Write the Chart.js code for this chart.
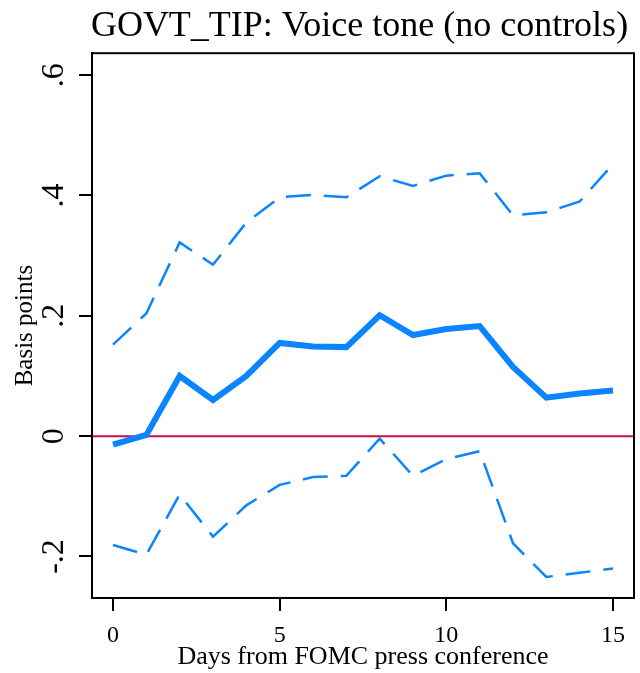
<!DOCTYPE html>
<html>
<head>
<meta charset="utf-8">
<script src="https://cdn.jsdelivr.net/npm/chart.js@4/dist/chart.umd.min.js"></script>
<style>
  html, body { margin: 0; padding: 0; background: #ffffff; }
  #wrap { width: 640px; height: 673px; position: relative; }
</style>
</head>
<body>
<div id="wrap"><canvas id="c"></canvas></div>
<script>
// ---- data ----
const days = [0, 1, 2, 3, 4, 5, 6, 7, 8, 9, 10, 11, 12, 13, 14, 15];
const estimate = [-0.014, 0.002, 0.100, 0.060, 0.100, 0.155, 0.149, 0.148, 0.201, 0.168, 0.178, 0.183, 0.115, 0.064, 0.071, 0.076];
const upperCI = [0.152, 0.204, 0.322, 0.285, 0.355, 0.397, 0.401, 0.397, 0.432, 0.416, 0.433, 0.437, 0.367, 0.372, 0.390, 0.452];
const lowerCI = [-0.181, -0.197, -0.097, -0.167, -0.115, -0.081, -0.068, -0.066, -0.004, -0.066, -0.038, -0.025, -0.178, -0.234, -0.227, -0.220];
const xTickValues = [0, 5, 10, 15];
const yTickValues = [-0.2, 0, 0.2, 0.4, 0.6];
const yTickLabels = ['-.2', '0', '.2', '.4', '.6'];
const refLineY = 0;
const titleText = 'GOVT_TIP: Voice tone (no controls)';
const xTitle = 'Days from FOMC press conference';
const yTitle = 'Basis points';

const SERIF = "'Liberation Serif', 'Times New Roman', serif";
const BLUE = '#0a84ff';
const RED = '#c8103e';

Chart.defaults.font.family = SERIF;
Chart.defaults.color = '#000';

const pts = arr => days.map((d, i) => ({ x: d, y: arr[i] }));

const framePlugin = {
  id: 'frame',
  afterLayout(chart) {
    // centre the title over the plot region (slightly left, as in the reference)
    if (chart.titleBlock) {
      chart.titleBlock.left = chart.chartArea.left - 7;
      chart.titleBlock.right = chart.chartArea.right;
    }
  },
  beforeDatasetsDraw(chart) {
    const { ctx, chartArea: a, scales: { y } } = chart;
    const py = y.getPixelForValue(refLineY);
    ctx.save();
    ctx.strokeStyle = RED;
    ctx.lineWidth = 2;
    ctx.beginPath();
    ctx.moveTo(a.left, py);
    ctx.lineTo(a.right, py);
    ctx.stroke();
    ctx.restore();
  },
  afterDraw(chart) {
    const { ctx, chartArea: a } = chart;
    ctx.save();
    ctx.strokeStyle = '#000';
    ctx.lineWidth = 2;
    ctx.strokeRect(a.left, a.top, a.right - a.left, a.bottom - a.top);
    ctx.restore();
  }
};

new Chart(document.getElementById('c'), {
  type: 'line',
  data: {
    datasets: [
      { label: 'upper', data: pts(upperCI), borderColor: BLUE, borderWidth: 2.5, borderDash: [25, 13], pointRadius: 0, fill: false, tension: 0 },
      { label: 'lower', data: pts(lowerCI), borderColor: BLUE, borderWidth: 2.5, borderDash: [25, 13], pointRadius: 0, fill: false, tension: 0 },
      { label: 'estimate', data: pts(estimate), borderColor: BLUE, borderWidth: 6, pointRadius: 0, fill: false, tension: 0 }
    ]
  },
  options: {
    responsive: true,
    maintainAspectRatio: false,
    devicePixelRatio: 1,
    animation: false,
    layout: { padding: { left: 0, right: 6, top: 0, bottom: 0 } },
    plugins: {
      legend: { display: false },
      tooltip: { enabled: false },
      title: {
        display: true,
        text: titleText,
        color: '#000',
        font: { family: SERIF, size: 36, weight: 'normal' },
        padding: { top: 5, bottom: 5 }
      }
    },
    scales: {
      x: {
        type: 'linear',
        min: -0.63,
        max: 15.63,
        afterBuildTicks: s => { s.ticks = xTickValues.map(v => ({ value: v })); },
        afterFit: s => { s.height = 75; },
        ticks: { color: '#000', font: { family: SERIF, size: 24 }, padding: 10, maxRotation: 0, includeBounds: false },
        grid: { drawOnChartArea: false, drawTicks: true, tickLength: 13, color: '#000', lineWidth: 2 },
        border: { display: true, color: '#000', width: 2 },
        title: { display: true, text: xTitle, color: '#000', font: { family: SERIF, size: 26 }, padding: { top: 0, bottom: 0 } }
      },
      y: {
        type: 'linear',
        min: -0.269,
        max: 0.6365,
        afterBuildTicks: s => { s.ticks = yTickValues.map(v => ({ value: v })); },
        afterFit: s => { s.width = 92; },
        ticks: {
          color: '#000',
          font: { family: SERIF, size: 32 },
          padding: 7,
          minRotation: 90,
          maxRotation: 90,
          crossAlign: 'center',
          includeBounds: false,
          callback: (v) => { const i = yTickValues.findIndex(t => Math.abs(t - v) < 1e-9); return i >= 0 ? yTickLabels[i] : ''; }
        },
        grid: { drawOnChartArea: false, drawTicks: true, tickLength: 13, color: '#000', lineWidth: 2 },
        border: { display: true, color: '#000', width: 2 },
        title: { display: true, text: yTitle, color: '#000', font: { family: SERIF, size: 25 }, padding: { top: 10, bottom: 0 } }
      }
    }
  },
  plugins: [framePlugin]
});
</script>
</body>
</html>
